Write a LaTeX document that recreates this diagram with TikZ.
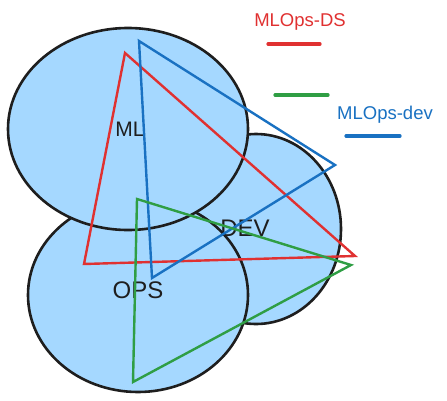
\documentclass[tikz,border=0pt]{standalone}
\usepackage{fontspec}
\setmainfont{Liberation Sans}
\usetikzlibrary{shapes.geometric}
\definecolor{fillblue}{HTML}{A5D8FF}
\definecolor{inkblack}{HTML}{1E1E1E}
\definecolor{exred}{HTML}{E03131}
\definecolor{exgreen}{HTML}{2F9E44}
\definecolor{exblue}{HTML}{1971C2}
\tikzset{
  blob/.style={ellipse, draw=inkblack, line width=2.6pt, fill=fillblue, inner sep=0pt},
  lbl/.style={text=inkblack, inner sep=0pt},
  tri/.style={line width=2.4pt, line join=miter},
  legline/.style={line width=3.2pt, line cap=round},
}
\begin{document}
\begin{tikzpicture}[x=1pt,y=-1pt]
\useasboundingbox (0,0) rectangle (447,400);
% ellipses
\node[blob, minimum width=170pt, minimum height=190pt] (dev) at (256,229) {};
\node[blob, minimum width=220pt, minimum height=194pt] (ops) at (138,295) {};
\node[blob, minimum width=240pt, minimum height=202pt] (ml) at (128,129) {};
% labels
\node[lbl, font=\fontsize{21}{21}\selectfont] (mllbl) at (130,129) {ML};
\node[lbl, font=\fontsize{24}{24}\selectfont] (devlbl) at (245,228) {DEV};
\node[lbl, font=\fontsize{24}{24}\selectfont] (opslbl) at (138,290) {OPS};
% triangle corners
\coordinate (r1) at (125,53);
\coordinate (r2) at (84,264);
\coordinate (r3) at (355,256);
\coordinate (b1) at (139,41);
\coordinate (b2) at (335,165);
\coordinate (b3) at (152,278);
\coordinate (g1) at (137,199);
\coordinate (g2) at (351,265);
\coordinate (g3) at (133,382);
\draw[tri, exred] (r1) -- (r2) -- (r3) -- cycle;
\draw[tri, exblue] (b1) -- (b2) -- (b3) -- cycle;
\draw[tri, exgreen] (g1) -- (g2) -- (g3) -- cycle;
% legend
\node[text=exred, font=\fontsize{18.5}{18.5}\selectfont] (dslbl) at (300,22) {MLOps-DS};
\coordinate (dsA) at (268,44);
\coordinate (dsB) at (320,44);
\draw[legline, exred] (dsA) -- (dsB);
\coordinate (gA) at (275,95);
\coordinate (gB) at (328,95);
\draw[legline, exgreen] (gA) -- (gB);
\node[text=exblue, font=\fontsize{18.5}{18.5}\selectfont] (devleg) at (385,115) {MLOps-dev};
\coordinate (bA) at (346,136);
\coordinate (bB) at (400,136);
\draw[legline, exblue] (bA) -- (bB);
\end{tikzpicture}
\end{document}
